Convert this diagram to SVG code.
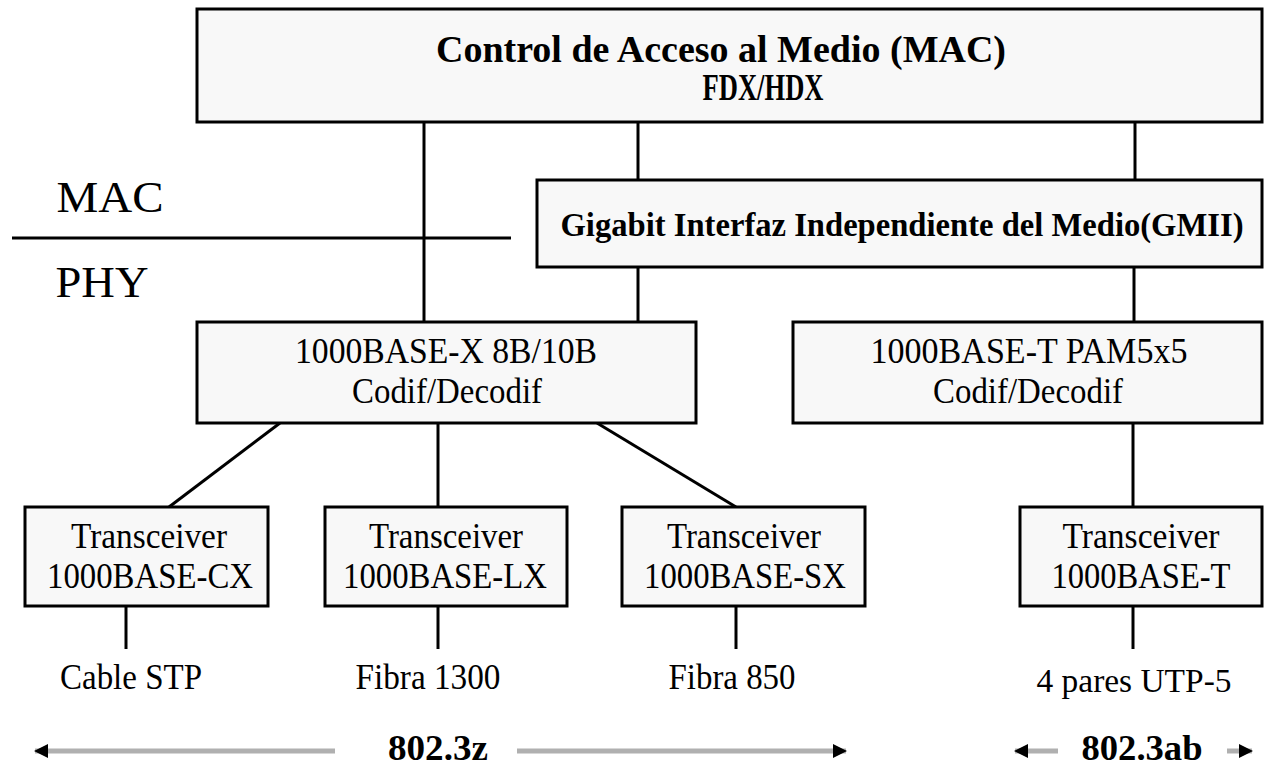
<svg xmlns="http://www.w3.org/2000/svg" width="1266" height="767" viewBox="0 0 1266 767">
<defs>
<style>
.box{fill:#f8f8f8;stroke:#000;stroke-width:3}
.ln{stroke:#000;stroke-width:3;fill:none}
.t{font-family:"Liberation Serif","Times New Roman",serif;fill:#000;text-anchor:middle}
.b{font-weight:bold}
.ar{stroke:#b0b0b0;stroke-width:5;fill:none}
</style>
<marker id="ah" markerUnits="userSpaceOnUse" markerWidth="14" markerHeight="16" viewBox="0 0 14 16" refX="13" refY="8" orient="auto">
<path d="M0,1 L14,8 L0,15 Z" fill="#000"/>
</marker>
<marker id="ahs" markerUnits="userSpaceOnUse" markerWidth="14" markerHeight="16" viewBox="0 0 14 16" refX="1" refY="8" orient="auto">
<path d="M14,1 L0,8 L14,15 Z" fill="#000"/>
</marker>
</defs>
<rect width="1266" height="767" fill="#fff"/>
<g id="connectors">
<line class="ln" x1="424" y1="122" x2="424" y2="322"/>
<line class="ln" x1="638" y1="122" x2="638" y2="180"/>
<line class="ln" x1="1135" y1="122" x2="1135" y2="180"/>
<line class="ln" x1="638" y1="267" x2="638" y2="322"/>
<line class="ln" x1="1134" y1="267" x2="1134" y2="322"/>
<line class="ln" x1="12" y1="238" x2="511" y2="238"/>
<line class="ln" x1="280" y1="423" x2="169" y2="507"/>
<line class="ln" x1="438" y1="423" x2="438" y2="507"/>
<line class="ln" x1="597" y1="423" x2="736" y2="507"/>
<line class="ln" x1="1133" y1="423" x2="1133" y2="507"/>
<line class="ln" x1="126" y1="606" x2="126" y2="649"/>
<line class="ln" x1="438" y1="606" x2="438" y2="649"/>
<line class="ln" x1="736" y1="606" x2="736" y2="649"/>
<line class="ln" x1="1133" y1="606" x2="1133" y2="649"/>
<line class="ar" x1="35" y1="751" x2="335" y2="751" marker-start="url(#ahs)"/>
<line class="ar" x1="517" y1="751" x2="846" y2="751" marker-end="url(#ah)"/>
<line class="ar" x1="1015" y1="751" x2="1058" y2="751" marker-start="url(#ahs)"/>
<line class="ar" x1="1227" y1="751" x2="1252" y2="751" marker-end="url(#ah)"/>
</g>
<g id="mac">
<rect class="box" x="197" y="9" width="1065" height="113"/>
<text class="t b" x="721" y="62" font-size="37" textLength="570" lengthAdjust="spacingAndGlyphs">Control de Acceso al Medio (MAC)</text>
<text class="t b" x="763" y="100" font-size="37" textLength="121" lengthAdjust="spacingAndGlyphs">FDX/HDX</text>
</g>
<g id="labels-layers">
<text class="t" x="110" y="212" font-size="45" textLength="107" lengthAdjust="spacingAndGlyphs">MAC</text>
<text class="t" x="102" y="297" font-size="45" textLength="93" lengthAdjust="spacingAndGlyphs">PHY</text>
</g>
<g id="gmii">
<rect class="box" x="537" y="180" width="725" height="87"/>
<text class="t b" x="902" y="236" font-size="33" textLength="683" lengthAdjust="spacingAndGlyphs">Gigabit Interfaz Independiente del Medio(GMII)</text>
</g>
<g id="base-x">
<rect class="box" x="197" y="322" width="499" height="101"/>
<text class="t" x="446" y="363" font-size="35" textLength="302" lengthAdjust="spacingAndGlyphs">1000BASE-X  8B/10B</text>
<text class="t" x="447" y="403" font-size="35" textLength="190" lengthAdjust="spacingAndGlyphs">Codif/Decodif</text>
</g>
<g id="base-t">
<rect class="box" x="793" y="322" width="469" height="101"/>
<text class="t" x="1029" y="363" font-size="35" textLength="317" lengthAdjust="spacingAndGlyphs">1000BASE-T  PAM5x5</text>
<text class="t" x="1028" y="403" font-size="35" textLength="190" lengthAdjust="spacingAndGlyphs">Codif/Decodif</text>
</g>
<g id="tx-cx">
<rect class="box" x="25" y="507" width="243" height="99"/>
<text class="t" x="149" y="548" font-size="35" textLength="156" lengthAdjust="spacingAndGlyphs">Transceiver</text>
<text class="t" x="150" y="588" font-size="35" textLength="206" lengthAdjust="spacingAndGlyphs">1000BASE-CX</text>
</g>
<g id="tx-lx">
<rect class="box" x="325" y="507" width="242" height="99"/>
<text class="t" x="446" y="548" font-size="35" textLength="154" lengthAdjust="spacingAndGlyphs">Transceiver</text>
<text class="t" x="445" y="588" font-size="35" textLength="204" lengthAdjust="spacingAndGlyphs">1000BASE-LX</text>
</g>
<g id="tx-sx">
<rect class="box" x="622" y="507" width="243" height="99"/>
<text class="t" x="744" y="548" font-size="35" textLength="154" lengthAdjust="spacingAndGlyphs">Transceiver</text>
<text class="t" x="745" y="588" font-size="35" textLength="202" lengthAdjust="spacingAndGlyphs">1000BASE-SX</text>
</g>
<g id="tx-t">
<rect class="box" x="1020" y="507" width="242" height="99"/>
<text class="t" x="1141" y="548" font-size="35" textLength="157" lengthAdjust="spacingAndGlyphs">Transceiver</text>
<text class="t" x="1141" y="588" font-size="35" textLength="179" lengthAdjust="spacingAndGlyphs">1000BASE-T</text>
</g>
<g id="media">
<text class="t" x="131" y="689" font-size="35" textLength="142" lengthAdjust="spacingAndGlyphs">Cable STP</text>
<text class="t" x="428" y="689" font-size="35" textLength="145" lengthAdjust="spacingAndGlyphs">Fibra 1300</text>
<text class="t" x="732" y="689" font-size="35" textLength="127" lengthAdjust="spacingAndGlyphs">Fibra 850</text>
<text class="t" x="1134" y="692" font-size="34" textLength="195" lengthAdjust="spacingAndGlyphs">4 pares UTP-5</text>
</g>
<g id="standards">
<text class="t b" x="438" y="760" font-size="35" textLength="100" lengthAdjust="spacingAndGlyphs">802.3z</text>
<text class="t b" x="1142" y="760" font-size="35" textLength="121" lengthAdjust="spacingAndGlyphs">802.3ab</text>
</g>
</svg>
